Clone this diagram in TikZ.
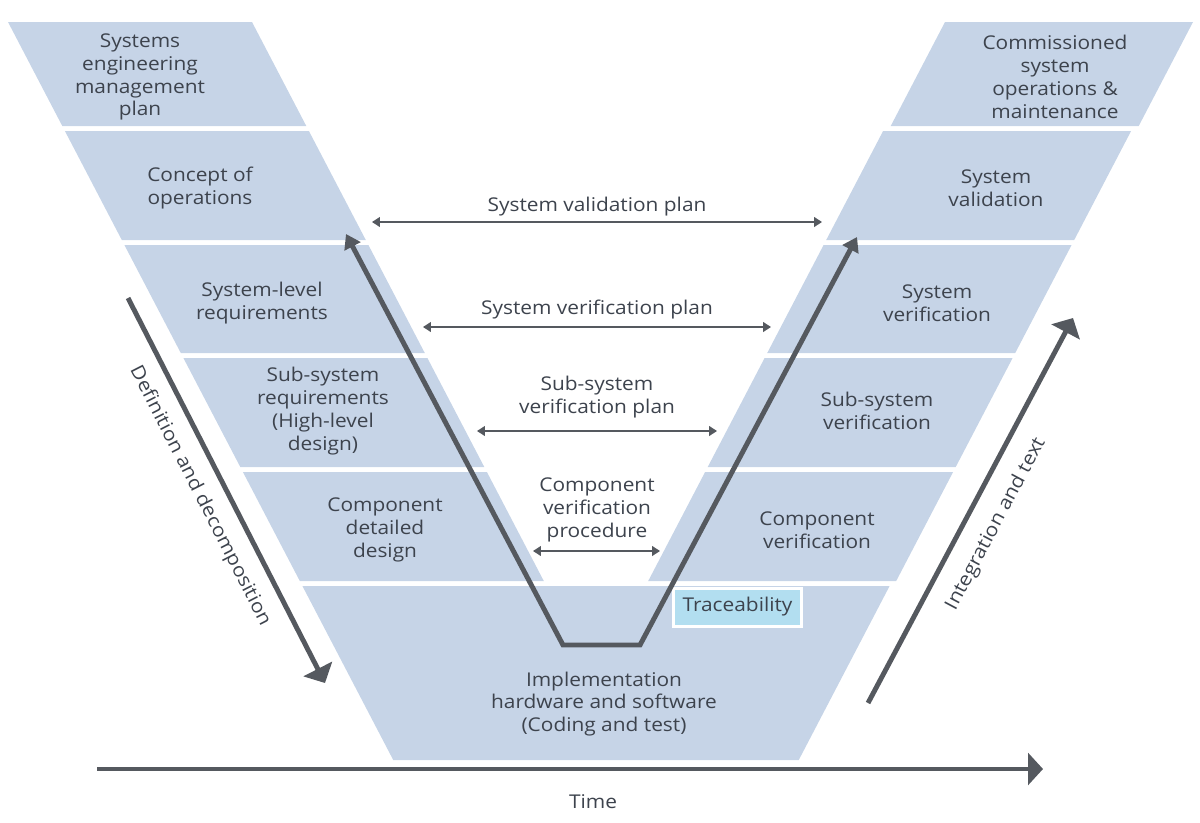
\documentclass[tikz,border=0pt]{standalone}
\usepackage{fontspec}
\setmainfont[FakeStretch=1.1]{Open Sans}
\usetikzlibrary{arrows.meta}
\definecolor{bandblue}{HTML}{C6D4E7}
\definecolor{txtgray}{HTML}{3D434D}
\definecolor{arrgray}{HTML}{55595F}
\definecolor{tracecyan}{HTML}{B2DEF0}
\newcommand\myleftband[2]{%
  \pgfmathsetmacro\xa{8+0.522*(#1-22)}%
  \pgfmathsetmacro\xb{8+0.522*(#2-22)}%
  \fill[bandblue] (\xa,#1) -- ({\xa+244},#1) -- ({\xb+244},#2) -- (\xb,#2) -- cycle;}
\newcommand\myrightband[3]{%
  \pgfmathsetmacro\xa{1196-8-0.522*(#1-22)+#3}%
  \pgfmathsetmacro\xb{1196-8-0.522*(#2-22)+#3}%
  \fill[bandblue] (\xa,#1) -- ({\xa-248},#1) -- ({\xb-248},#2) -- (\xb,#2) -- cycle;}
\begin{document}
\begin{tikzpicture}[x=0.02cm,y=-0.02cm,
  lbl/.style={text=txtgray, align=center, font=\fontsize{10.8}{13}\selectfont, inner sep=0pt},
  thinarrow/.style={draw=arrgray, line width=0.75pt, {Triangle[length=4.5pt,width=5.6pt]}-{Triangle[length=4.5pt,width=5.6pt]}},
  varrow/.style={draw=arrgray, line width=2.8pt, line join=miter, {Triangle[length=8pt,width=10pt]}-{Triangle[length=8pt,width=10pt]}},
  bigarrow/.style={draw=arrgray, line width=2.8pt, -{Triangle[length=9pt,width=18pt]}}
]
\useasboundingbox (0,0) rectangle (1200,822);
% bands
\myleftband{22}{126}
\myleftband{131}{240}
\myleftband{245}{353}
\myleftband{358}{467}
\myleftband{472}{581}
\myrightband{22}{126}{5}
\myrightband{131}{240}{0}
\myrightband{245}{353}{0}
\myrightband{358}{467}{0}
\myrightband{472}{581}{0}
\pgfmathsetmacro\xa{8+0.522*(586-22)}
\pgfmathsetmacro\xb{8+0.522*(760-22)}
\fill[bandblue] (\xa,586) -- ({1192-\xa},586) -- ({1192-\xb},760) -- (\xb,760) -- cycle;
% band labels
\node[lbl] (l1) at (140,77) {Systems\\engineering\\management\\plan};
\node[lbl] (l2) at (200,188) {Concept of\\operations};
\node[lbl] (l3) at (262,303) {System-level\\requirements};
\node[lbl] (l4) at (323,411) {Sub-system\\requirements\\(High-level\\design)};
\node[lbl] (l5) at (385,530) {Component\\detailed\\design};
\node[lbl] (r1) at (1055,77) {Commissioned\\system\\operations \&\\maintenance};
\node[lbl] (r2) at (996,188) {System\\validation};
\node[lbl] (r3) at (937,303) {System\\verification};
\node[lbl] (r4) at (877,411) {Sub-system\\verification};
\node[lbl] (r5) at (817,530) {Component\\verification};
\node[lbl] (impl) at (604,704) {Implementation\\hardware and software\\(Coding and test)};
% traceability
\draw[fill=tracecyan, draw=white, line width=1.7pt] (673.5,588.5) rectangle (801.5,626.5);
\node[lbl] (trace) at (737.5,607) {Traceability};
% V path
\coordinate (vl) at (346,234);
\coordinate (vb1) at (563,645);
\coordinate (vb2) at (640,645);
\coordinate (vr) at (857,237);
\draw[varrow] (vl) -- (vb1) -- (vb2) -- (vr);
% horizontal plan arrows
\coordinate (a1l) at (372,222); \coordinate (a1r) at (822,222);
\coordinate (a2l) at (423,327); \coordinate (a2r) at (771,327);
\coordinate (a3l) at (477,431); \coordinate (a3r) at (717,431);
\coordinate (a4l) at (533,551); \coordinate (a4r) at (660,551);
\draw[thinarrow] (a1l) -- (a1r);
\draw[thinarrow] (a2l) -- (a2r);
\draw[thinarrow] (a3l) -- (a3r);
\draw[thinarrow] (a4l) -- (a4r);
\node[lbl] (t1) at (597,207) {System validation plan};
\node[lbl] (t2) at (597,310) {System verification plan};
\node[lbl] (t3) at (597,397) {Sub-system\\verification plan};
\node[lbl] (t4) at (597,510) {Component\\verification\\procedure};
% side arrows
\coordinate (d1) at (128,298); \coordinate (d2) at (325,683);
\draw[bigarrow] (d1) -- (d2);
\node[lbl, rotate=-62.9] (dtext) at (200,496) {Definition and decomposition};
\coordinate (i1) at (868,703); \coordinate (i2) at (1073,318);
\draw[bigarrow] (i1) -- (i2);
\node[lbl, rotate=62] (itext) at (996,524) {Integration and text};
% time
\coordinate (tm1) at (97,769); \coordinate (tm2) at (1043,769);
\draw[draw=arrgray, line width=2.8pt, -{Triangle[length=8.5pt,width=18pt]}] (tm1) -- (tm2);
\node[lbl] (time) at (593,802) {Time};
\end{tikzpicture}
\end{document}
